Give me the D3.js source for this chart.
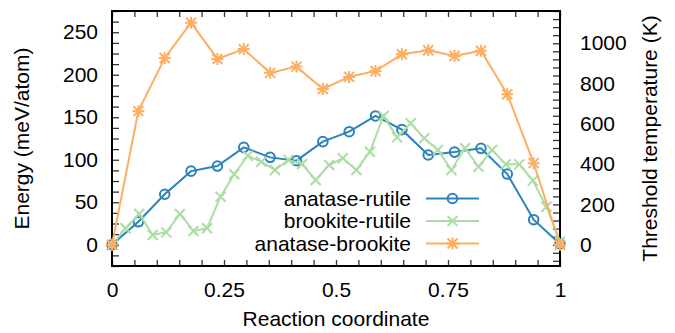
<!DOCTYPE html>
<html>
<head>
<meta charset="utf-8">
<script src="https://cdn.jsdelivr.net/npm/d3@7"></script>
<style>
  body { margin: 0; background: #fff; }
  svg { display: block; font-family: "Liberation Sans", Arial, Helvetica, sans-serif; }
  .tick line { stroke: #333; stroke-width: 1.3; }
  .tick text { fill: #000; font-size: 21px; }
</style>
</head>
<body>
<div id="chart"></div>
<script>
// anatase-rutile and anatase-brookite share 18 images, brookite-rutile has 34
const arEnergy = [0, 27, 59.4, 86.6, 92.6, 114.6, 102.8, 98.9, 121.3, 133, 151.5, 135.4, 105.6, 109, 113.4, 83.2, 29.5, 1]
const brEnergy = [0, 19.4, 36.2, 11.5, 14.6, 36.2, 16.2, 19.4, 56.5, 82.9, 104.8, 97.7, 88, 99.7, 95, 76.2, 93.8,
  101.7, 88, 109.5, 151.5, 126.4, 142.9, 125.2, 111.5, 88, 113.5, 91.8, 111.5, 94.6, 94.6, 75.4, 44.8, 4]
const abTemp = [0, 663, 927, 1102, 922, 971, 853, 884, 773, 833, 862, 945, 965, 937, 963, 747, 405, 0]

const seriesNames = ['anatase-rutile', 'brookite-rutile', 'anatase-brookite']
const seriesColors = ['#2b83ba', '#abdda4', '#fdae61']

const xTickLabels = [0, 0.25, 0.5, 0.75, 1]
const yTickLabels = [0, 50, 100, 150, 200, 250]
const y2TickLabels = [0, 200, 400, 600, 800, 1000]

const width = 675
const height = 333
const margin = { top: 11, right: 115, bottom: 67, left: 112 }
const innerW = width - margin.left - margin.right
const innerH = height - margin.top - margin.bottom

const x = d3.scaleLinear().domain([0, 1]).range([0, innerW])
const y = d3.scaleLinear().domain([-25, 275]).range([innerH, 0])
const y2 = d3.scaleLinear().domain([-105.5, 1160]).range([innerH, 0])

const xMinor = d3.range(0, 21).map(i => i * 0.05)
const yMinor = d3.range(0, 25).map(i => -25 + i * 12.5)
const y2Minor = d3.range(0, 32).map(i => -80 + i * 40)

const svg = d3.select('#chart').append('svg')
  .attr('width', width)
  .attr('height', height)

const g = svg.append('g').attr('transform', `translate(${margin.left},${margin.top})`)

// inward ticks on all four sides
function ticksOnly(axis, values, size) {
  return axis.tickValues(values).tickSize(-size).tickFormat('')
}
g.append('g').attr('transform', `translate(0,${innerH})`)
  .call(ticksOnly(d3.axisBottom(x), xMinor, 6))
g.append('g')
  .call(ticksOnly(d3.axisTop(x), xMinor, 6))
g.append('g')
  .call(ticksOnly(d3.axisLeft(y), yMinor, 7))
g.append('g').attr('transform', `translate(${innerW},0)`)
  .call(ticksOnly(d3.axisRight(y2), y2Minor, 7))
g.selectAll('.domain').remove()

// labels
g.append('g').attr('transform', `translate(0,${innerH})`)
  .call(d3.axisBottom(x).tickValues(xTickLabels).tickSize(0).tickPadding(16).tickFormat(d => String(d)))
g.append('g')
  .call(d3.axisLeft(y).tickValues(yTickLabels).tickSize(0).tickPadding(14).tickFormat(d3.format('d')))
g.append('g').attr('transform', `translate(${innerW},0)`)
  .call(d3.axisRight(y2).tickValues(y2TickLabels).tickSize(0).tickPadding(20).tickFormat(d3.format('d')))
g.selectAll('.domain').remove()

g.append('rect')
  .attr('width', innerW)
  .attr('height', innerH)
  .attr('fill', 'none')
  .attr('stroke', '#000')
  .attr('stroke-width', 2)

// markers
function drawMarker(sel, kind, color) {
  if (kind === 0) {
    sel.append('circle').attr('r', 4.8).attr('fill', 'none').attr('stroke', color).attr('stroke-width', 2)
  } else if (kind === 1) {
    sel.append('path').attr('d', 'M-5,-5L5,5M-5,5L5,-5').attr('stroke', color).attr('stroke-width', 2)
  } else {
    sel.append('path').attr('d', 'M-5,-5L5,5M-5,5L5,-5M-6,0L6,0M0,-6L0,6').attr('stroke', color).attr('stroke-width', 2)
  }
}

const series = [
  { values: arEnergy, scale: y },
  { values: brEnergy, scale: y },
  { values: abTemp, scale: y2 }
]

series.forEach((s, i) => {
  const n = s.values.length - 1
  const pts = s.values.map((v, k) => [x(k / n), s.scale(v)])
  g.append('path')
    .datum(pts)
    .attr('fill', 'none')
    .attr('stroke', seriesColors[i])
    .attr('stroke-width', 2)
    .attr('d', d3.line())
  g.append('g').selectAll('g')
    .data(pts)
    .join('g')
    .attr('transform', d => `translate(${d[0]},${d[1]})`)
    .each(function() { drawMarker(d3.select(this), i, seriesColors[i]) })
})

// legend
const legend = svg.append('g')
seriesNames.forEach((name, i) => {
  const ly = 198.5 + i * 22.5
  legend.append('text')
    .attr('x', 411).attr('y', ly).attr('dy', '0.35em')
    .attr('text-anchor', 'end')
    .attr('font-size', 21)
    .text(name)
  legend.append('line')
    .attr('x1', 426).attr('x2', 479).attr('y1', ly).attr('y2', ly)
    .attr('stroke', seriesColors[i]).attr('stroke-width', 2)
  const m = legend.append('g').attr('transform', `translate(452.5,${ly})`)
  drawMarker(m, i, seriesColors[i])
})

// axis titles
svg.append('text')
  .attr('x', margin.left + innerW / 2).attr('y', 326)
  .attr('text-anchor', 'middle').attr('font-size', 21)
  .text('Reaction coordinate')
svg.append('text')
  .attr('transform', `translate(22,${margin.top + innerH / 2}) rotate(-90)`)
  .attr('dy', '0.35em')
  .attr('text-anchor', 'middle').attr('font-size', 21)
  .text('Energy (meV/atom)')
svg.append('text')
  .attr('transform', `translate(650,${margin.top + innerH / 2}) rotate(-90)`)
  .attr('dy', '0.35em')
  .attr('text-anchor', 'middle').attr('font-size', 21)
  .text('Threshold temperature (K)')
</script>
</body>
</html>
